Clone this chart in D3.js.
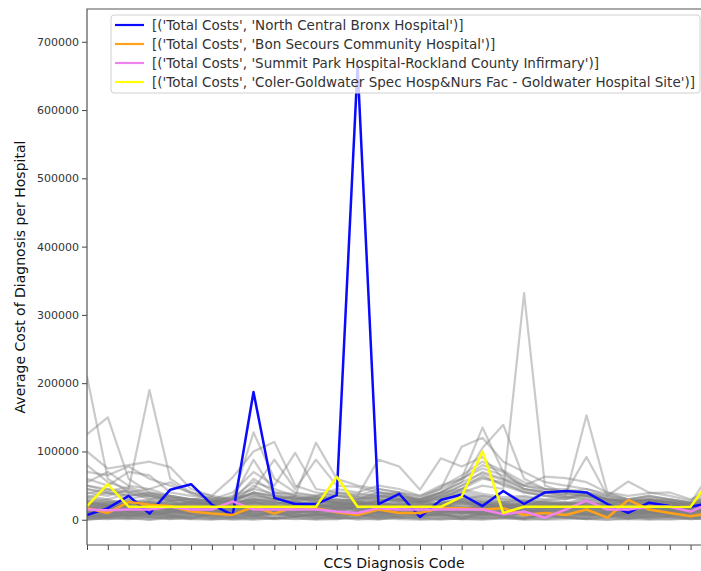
<!DOCTYPE html>
<html><head><meta charset="utf-8">
<script src="https://cdn.jsdelivr.net/npm/d3@7"></script>
<style>body{margin:0;background:#fff}svg{display:block}text{font-family:"DejaVu Sans",sans-serif}</style>
</head><body><div id="chart"></div>
<script>
// values in thousands of dollars, index = CCS diagnosis code position
const UNIT = 1000;
const yTicks = [0, 100000, 200000, 300000, 400000, 500000, 600000, 700000];
const legendLabels = [
  "[('Total Costs', 'North Central Bronx Hospital')]",
  "[('Total Costs', 'Bon Secours Community Hospital')]",
  "[('Total Costs', 'Summit Park Hospital-Rockland County Infirmary')]",
  "[('Total Costs', 'Coler-Goldwater Spec Hosp&Nurs Fac - Goldwater Hospital Site')]"
];
const seriesColors = ["#0a0aff", "#ffa21a", "#ee82ee", "#ffff00"];
const blue   = [7,17,35,9,44,52,22,7,187,32,23,23,36,665,23,38,4,29,37,20,42,23,40,42,40,23,10,25,20,19,25];
const orange = [17,10,26,22,20,12,9,7,19,9,19,17,11,7,15,10,10,17,17,15,17,7,10,7,15,3,29,15,10,5,10];
const violet = [15,14,15,15,19,15,15,27,15,15,15,15,12,10,17,15,15,15,15,15,8,12,3,15,28,15,15,19,19,12,25];
const yellow = [20,52,19,19,19,19,19,19,19,19,19,19,63,19,19,19,19,19,34,100,10,19,19,19,19,19,19,19,19,19,61];

const grayUpper = [
  [210,60,40,30,28,25,22,20,35,30,25,22,30,25,28,30,20,25,30,35,30,28,25,22,25,20,18,20,18,15,20],
  [125,150,60,40,35,30,25,28,40,35,30,28,25,30,35,40,25,30,45,60,55,40,35,30,40,30,25,28,25,22,30],
  [80,55,45,190,60,40,30,25,30,28,35,30,25,22,28,30,25,35,40,50,45,332,50,40,35,30,28,30,25,20,25],
  [100,75,80,85,77,45,35,30,128,60,40,35,45,40,50,45,35,50,60,135,70,45,40,35,153,40,30,35,30,25,70],
  [70,65,78,60,50,40,35,62,100,114,50,40,35,30,40,35,30,40,55,105,139,60,45,40,92,35,56,40,35,28,50],
  [55,70,50,45,55,38,30,40,70,50,98,45,40,35,88,78,44,90,78,92,60,50,63,61,55,40,35,39,40,30,40],
  [60,50,70,65,40,35,32,30,88,40,35,113,60,50,45,40,35,45,107,120,85,70,55,50,45,38,30,35,30,25,35],
  [50,45,40,45,35,30,28,35,45,88,45,88,50,48,40,35,30,40,60,80,70,50,45,45,40,35,28,30,28,22,55],
  [45,40,35,38,30,28,25,28,60,40,38,35,40,38,35,30,28,35,50,70,60,45,40,38,35,30,25,28,25,20,30],
  [40,35,45,35,32,30,28,25,50,35,32,30,35,33,30,28,26,32,45,65,50,40,35,33,30,28,24,26,23,20,28]
];
const grayMid = [
  [45,38,42,35,30,28,25,30,45,38,32,30,35,32,40,38,30,45,60,75,65,50,42,38,40,32,28,30,28,24,35],
  [38,45,35,40,32,30,28,26,40,33,30,35,30,28,35,33,28,40,55,68,58,45,40,35,38,30,26,28,26,22,32],
  [50,42,48,38,35,30,27,33,55,45,35,32,38,35,45,40,32,48,65,85,72,55,45,40,45,35,30,33,30,25,38],
  [33,40,30,36,28,26,24,30,38,30,28,32,28,26,32,30,26,36,50,62,52,42,36,33,35,28,25,27,25,21,30]
];
const grayLow = [
  [2,1,3,0,2,1,0,2,3,1,2,0,1,3,2,1,0,2,1,3,2,1,0,1,2,3,1,0,2,1,2],
  [5,3,6,4,2,5,3,4,6,2,4,5,3,2,5,4,3,6,5,2,4,3,5,4,2,6,3,4,5,3,4],
  [8,10,6,9,7,5,8,10,7,9,6,8,10,7,5,9,8,6,10,8,7,9,6,8,10,7,5,9,8,6,8],
  [12,9,14,11,10,13,9,12,15,10,11,14,12,9,13,11,10,14,12,11,13,10,12,14,9,11,13,10,12,9,11],
  [15,18,13,16,14,17,12,15,18,14,16,13,17,15,12,16,14,18,15,13,17,14,16,12,15,17,13,16,14,12,15],
  [20,16,22,18,15,19,17,21,23,16,18,20,17,19,22,18,16,20,24,19,17,21,18,16,20,18,15,17,16,14,18],
  [25,22,19,24,21,18,20,23,26,21,19,22,20,24,21,23,19,25,27,22,20,24,21,19,23,20,18,21,19,17,22],
  [10,14,17,12,18,11,15,9,13,16,12,10,14,17,11,13,15,12,16,19,14,11,15,13,17,12,10,14,11,13,12],
  [28,24,30,22,26,20,18,24,32,25,22,27,24,21,28,26,22,30,33,28,25,27,24,22,28,24,20,22,21,18,25],
  [3,6,2,7,4,8,5,3,6,9,4,7,5,8,3,6,9,4,7,5,8,3,6,4,7,5,2,6,4,3,5],
  [18,12,20,15,22,13,17,19,21,14,20,16,22,13,18,15,20,23,17,21,15,19,14,22,16,20,12,18,15,11,17],
  [7,12,9,14,6,11,8,13,10,7,12,9,6,11,14,8,10,13,9,12,7,11,14,8,10,6,9,12,7,10,9],
  [22,27,18,25,20,23,16,19,28,24,26,21,18,23,25,20,17,26,30,25,22,18,23,26,21,19,16,20,18,15,24],
  [14,20,11,18,16,9,22,14,19,12,17,15,20,12,16,19,13,21,18,16,20,13,17,15,12,18,14,11,16,13,15],
  [4,9,12,5,10,14,7,11,4,13,8,6,11,9,7,12,5,10,14,8,11,6,9,13,5,10,8,13,6,11,7],
  [30,26,24,28,25,22,26,20,30,27,24,28,25,22,27,30,24,32,35,30,26,28,25,23,30,26,22,24,22,19,27],
  [16,11,19,13,17,20,14,10,17,19,15,12,18,16,10,14,18,15,12,20,17,15,12,18,14,11,17,15,13,16,14],
  [11,16,8,20,13,15,10,17,12,18,9,15,13,19,16,11,14,9,17,15,10,16,19,11,13,15,9,12,10,14,12],
  [6,4,10,8,3,7,11,5,9,4,10,2,8,6,11,4,7,9,3,10,6,8,4,11,7,3,10,5,8,4,6],
  [24,19,26,21,28,17,23,25,27,20,25,23,19,26,22,25,21,24,28,23,26,21,25,20,24,22,19,23,20,18,23],
  [13,7,15,10,12,8,14,11,9,15,13,11,8,14,9,12,11,16,13,9,12,14,10,15,11,9,12,10,14,8,11],
  [19,22,14,17,24,15,21,18,20,23,16,19,22,17,20,24,19,22,25,18,21,17,20,18,22,15,19,17,15,18,20],
  [1,4,6,2,5,3,7,1,4,2,6,3,1,5,7,2,4,1,6,3,5,2,7,3,1,4,6,2,5,1,3],
  [9,5,11,7,13,9,6,10,12,8,14,6,9,12,8,10,6,11,9,13,7,10,12,6,9,11,7,9,11,6,10],
  [26,30,21,27,23,26,22,28,35,29,27,30,26,25,30,28,25,34,38,32,27,30,26,24,33,27,23,25,23,20,28],
  [17,23,16,21,19,24,18,14,22,17,21,18,23,15,19,21,17,19,22,24,18,22,17,21,19,16,21,19,17,15,19],
  [21,15,24,19,16,21,24,17,25,22,15,24,16,20,24,17,22,18,23,20,23,16,22,17,25,19,17,15,19,16,21],
  [0,2,1,4,1,3,2,0,1,3,1,2,4,0,2,3,1,0,2,1,3,0,2,4,1,0,3,1,0,2,1],
  [12,17,13,9,15,11,13,16,14,11,18,12,15,10,14,17,12,14,20,17,13,15,11,14,16,13,11,14,12,10,13],
  [23,18,27,20,17,25,19,22,24,26,20,17,24,21,17,22,25,21,26,22,19,25,20,23,18,21,20,18,21,17,22],
  [32,28,26,30,34,24,28,32,38,30,33,26,30,28,33,35,27,38,42,35,30,33,28,30,35,29,25,28,25,22,30],
  [5,8,4,9,6,10,4,7,11,6,8,5,10,7,4,9,6,8,11,5,9,7,4,10,6,8,5,7,9,4,6],
  [27,21,23,26,19,27,21,26,29,23,28,19,27,23,26,20,28,23,31,27,24,20,28,25,22,24,21,26,20,19,25],
  [35,30,38,33,28,30,33,27,40,35,30,33,28,31,36,32,29,40,45,38,33,35,30,32,37,31,27,30,27,24,32],
  [16,19,21,14,11,18,20,15,16,21,14,18,11,20,15,17,21,12,19,14,22,12,18,16,20,14,18,13,21,12,16],
  [9,13,5,11,8,12,15,6,14,10,7,13,11,5,12,9,13,7,10,16,8,13,5,12,8,14,11,6,10,13,9],
  [3,8,5,11,7,4,9,6,2,10,5,8,3,9,6,11,4,7,2,8,5,10,3,7,9,4,8,2,6,10,5],
  [19,14,17,22,18,21,13,20,16,19,22,14,18,21,16,13,20,17,15,22,18,14,21,16,19,13,17,20,14,16,18],
  [11,6,13,8,15,10,12,7,14,9,11,15,6,12,10,14,8,13,11,7,15,9,12,6,14,10,8,11,13,7,10],
  [24,20,23,17,21,26,22,19,25,18,23,21,25,19,24,18,23,20,27,24,19,23,22,25,17,22,20,24,18,21,20],
  [2,5,8,3,6,1,9,4,7,2,5,9,3,8,1,6,4,9,2,7,5,1,8,3,6,9,2,5,7,3,4],
  [14,10,16,19,12,15,11,18,13,16,10,19,14,11,17,13,18,10,15,12,17,11,16,19,13,10,15,18,12,14,13],
  [21,25,18,23,19,16,24,21,26,17,22,18,21,25,19,22,16,24,26,21,24,19,17,23,20,25,18,22,24,19,22],
  [7,3,9,5,11,8,2,10,6,12,4,9,7,3,10,5,12,8,4,11,6,2,9,7,3,12,5,10,4,8,6],
  [17,21,12,15,20,14,18,12,20,15,19,11,16,20,13,17,15,21,12,18,14,20,13,17,15,21,12,16,18,14,16],
  [9,15,7,13,10,16,6,14,8,12,17,10,15,8,13,7,16,11,14,9,13,16,8,12,15,7,14,9,12,15,11],
  [26,22,28,25,23,20,27,24,30,26,21,25,23,27,22,28,26,23,29,26,22,26,23,21,27,23,25,21,23,20,24],
  [0,3,2,0,4,2,1,3,0,2,4,1,3,2,0,4,2,3,1,0,2,4,1,3,2,0,1,4,2,3,0]
];

const W = 701, H = 571;
const L = 87, R = 701, T = 9, B = 545;
const svg = d3.select("#chart").append("svg").attr("width", W).attr("height", H);

const x = d3.scaleLinear().domain([0, 29.5]).range([L, R]);
const y = d3.scaleLinear().domain([-37000, 748000]).range([B, T]);

svg.append("defs").append("clipPath").attr("id", "clip")
  .append("rect").attr("x", L).attr("y", T).attr("width", R - L).attr("height", B - T);

const line = d3.line().x((d, i) => x(i)).y(d => y(d * UNIT));
const plot = svg.append("g").attr("clip-path", "url(#clip)");

const grays = grayLow.concat(grayMid, grayUpper);
plot.selectAll("path.gray").data(grays).join("path").attr("class", "gray")
  .attr("d", line).attr("fill", "none").attr("stroke", "#808080")
  .attr("stroke-opacity", 0.42).attr("stroke-width", 2.2).attr("stroke-linejoin", "round");

const colored = [blue, orange, violet, yellow];
plot.selectAll("path.hl").data(colored).join("path").attr("class", "hl")
  .attr("d", line).attr("fill", "none").attr("stroke", (d, i) => seriesColors[i])
  .attr("stroke-width", 2.5).attr("stroke-linejoin", "round");

// axes
const yAxis = d3.axisLeft(y).tickValues(yTicks).tickSize(5).tickSizeOuter(0).tickFormat(d3.format("d"));
const gy = svg.append("g").attr("transform", `translate(${L},0)`).call(yAxis);
gy.select(".domain").remove();
gy.selectAll(".tick line").attr("stroke", "#444");
gy.selectAll(".tick text").attr("font-size", 11).attr("fill", "#333").attr("x", -8).attr("font-family", "DejaVu Sans");

const xAxis = d3.axisBottom(x).tickValues(d3.range(0, 30)).tickSize(5).tickSizeOuter(0).tickFormat("");
const gx = svg.append("g").attr("transform", `translate(0,${B})`).call(xAxis);
gx.select(".domain").remove();
gx.selectAll(".tick line").attr("stroke", "#444");

// spines
svg.append("path").attr("d", `M${L},${B}V${T}H${R}M${L},${B}H${R}`)
  .attr("fill", "none").attr("stroke", "#555").attr("stroke-width", 1.2);

// labels
svg.append("text").attr("x", 394).attr("y", 568).attr("text-anchor", "middle")
  .attr("font-size", 14).attr("fill", "#111").text("CCS Diagnosis Code");
svg.append("text").attr("transform", `translate(25,${(T + B) / 2}) rotate(-90)`)
  .attr("text-anchor", "middle").attr("font-size", 14).attr("fill", "#111")
  .text("Average Cost of Diagnosis per Hospital");

// legend
const lg = svg.append("g");
lg.append("rect").attr("x", 111).attr("y", 15).attr("width", 589).attr("height", 78).attr("rx", 3)
  .attr("fill", "#fff").attr("fill-opacity", 0.8).attr("stroke", "#d0d0d0");
const rows = lg.selectAll("g.row").data(legendLabels).join("g").attr("class", "row")
  .attr("transform", (d, i) => `translate(0,${25 + i * 19})`);
rows.append("line").attr("x1", 115).attr("x2", 144).attr("stroke", (d, i) => seriesColors[i]).attr("stroke-width", 2.2);
rows.append("text").attr("x", 152).attr("y", 5).attr("font-size", 13.5).attr("fill", "#333").text(d => d);
</script></body></html>
